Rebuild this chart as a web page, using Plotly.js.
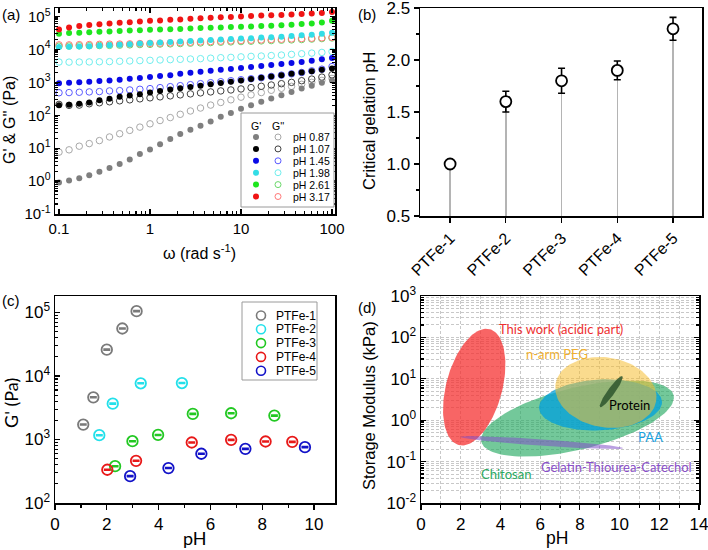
<!DOCTYPE html>
<html><head><meta charset="utf-8">
<script src="https://cdn.plot.ly/plotly-3.0.1.min.js"></script>
<style>html,body{margin:0;padding:0;background:#fff}#chart{width:708px;height:550px}</style>
</head><body><div id="chart"></div>
<script>
// ---------------- DATA ----------------
// Panel (a): frequency sweeps
const omega = [0.1,0.129,0.167,0.215,0.278,0.359,0.464,0.599,0.774,1,1.29,1.67,2.15,2.78,3.59,4.64,5.99,7.74,10,12.9,16.7,21.5,27.8,35.9,46.4,59.9,77.4,100];
const sweepLabels = ['pH 0.87','pH 1.07','pH 1.45','pH 1.98','pH 2.61','pH 3.17'];
const gPrime_087 = [0.91,1.05,1.23,1.51,1.91,2.51,3.31,4.57,6.61,9.12,13.2,19.1,26.9,36.3,47.9,64.6,90.2,117,158,200,257,324,407,513,646,794,977,1148];
const gDouble_087 = [7.59,8.91,11.5,13.8,17.0,21.9,27.5,34.7,43.7,55.0,69.2,85.1,107,135,166,204,245,295,355,417,490,575,661,759,871,1000,1148,1318];
const gPrime_107 = [200,209,224,245,288,316,363,398,437,490,550,603,661,724,794,871,955,1047,1148,1259,1380,1514,1660,1820,1995,2188,2399,2630];
const gDouble_107 = [214,200,204,224,240,257,275,295,316,339,363,389,417,447,479,513,550,589,631,692,759,832,912,1000,1122,1259,1445,1698];
const gPrime_145 = [933,966,1000,1047,1096,1148,1202,1288,1349,1445,1549,1660,1820,1950,2089,2239,2399,2570,2754,2951,3162,3388,3631,3890,4169,4571,5012,5495];
const gDouble_145 = [484,490,501,513,525,550,562,589,617,646,692,741,794,851,912,977,1047,1122,1202,1288,1380,1514,1660,1820,1995,2239,2512,3020];
const gPrime_198 = [11900,12000,12300,12600,13000,13500,14000,14500,15100,15700,16200,16800,17400,18000,18600,19300,20000,20700,21400,22100,22900,23700,24500,25700,26900,28200,29900,32400];
const gDouble_198 = [4150,4120,4150,4180,4220,4270,4370,4470,4570,4680,4790,4900,5010,5130,5250,5430,5620,5750,5960,6170,6310,6530,6760,7080,7410,7760,8130,8710];
const gPrime_261 = [30200,31600,32400,33100,34300,35100,36700,37600,38500,39400,40300,41200,42200,43200,44700,45700,46800,47900,49000,50100,51300,52500,54300,56200,58900,61700,66100,74100];
const gDouble_261 = [12600,12700,12900,13000,13200,13300,13500,13800,14100,14300,14600,14800,15100,15500,15800,16200,16600,17000,17400,17800,18200,18600,19100,19500,20000,20700,21400,22400];
const gPrime_317 = [40700,46200,51900,55600,58200,61700,64600,67600,70800,74100,75900,79400,81300,85100,89100,92300,95500,97700,100000,103500,107200,109600,112200,114800,118900,123000,128800,138000];
const gDouble_317 = [13800,13800,14000,14100,14300,14500,14600,14800,15100,15300,15500,15800,16200,16600,17000,17400,17800,18200,18600,19100,19500,20000,20400,20900,21400,21900,22600,23400];

// Panel (b): critical gelation pH
const samples = ['PTFe-1','PTFe-2','PTFe-3','PTFe-4','PTFe-5'];
const criticalPH = [1.0, 1.6, 1.8, 1.9, 2.3];
const criticalPHErr = [0.04, 0.10, 0.12, 0.09, 0.11];
const axisBaseB = 0.5;

// Panel (c): G' versus pH
const ptfe1_pH = [1.09, 1.48, 2.00, 2.60, 3.15];
const ptfe1_G = [1720, 4620, 26000, 56000, 105000];
const ptfe2_pH = [1.71, 2.23, 3.31, 4.90];
const ptfe2_G = [1170, 3670, 7680, 7750];
const ptfe3_pH = [2.32, 2.99, 3.98, 5.32, 6.80, 8.47];
const ptfe3_G = [380, 940, 1180, 2530, 2590, 2380];
const ptfe4_pH = [2.02, 3.13, 5.28, 6.80, 8.13, 9.16];
const ptfe4_G = [334, 462, 897, 988, 930, 919];
const ptfe5_pH = [2.90, 4.38, 5.65, 7.35, 9.65];
const ptfe5_G = [265, 355, 596, 713, 758];

// Panel (d): regions (centre pH, centre log10 kPa, semi-axes in pH-equivalent screen units, tilt)
const regionNames = ['Chitosan','PAA','n-arm PEG','This work (acidic part)','Gelatin-Thiourea-Catechol','Protein'];
const regionCenterPH = [7.88, 9.04, 9.31, 2.68, 6.08, 9.58];
const regionCenterLogKPa = [0.04, 0.37, 0.67, 0.80, -0.54, 0.69];
const regionSemiMajor = [4.98, 3.10, 2.57, 3.02, 4.12, 0.96];
const regionSemiMinor = [1.56, 1.28, 1.76, 1.41, 0.16, 0.18];
const regionTiltDeg = [13.6, 3, -10, 75, -4, 54.3];
const regionLabelPH = [4.26, 11.58, 6.85, 7.05, 9.87, 10.52];
const regionLabelLogKPa = [-1.29, -0.41, 1.60, 2.21, -1.12, 0.36];

// ---------------- STYLE / LAYOUT ----------------
const W = 708, H = 550;
const px = x => x / W, py = y => 1 - y / H;
const FONT = 'Liberation Sans, Arial, sans-serif';
const CAL = 'Lato, Open Sans, sans-serif';
const boxA = [55, 335, 8, 214], boxB = [420, 702, 8, 216], boxC = [55, 335, 296, 503], boxD = [421, 699, 296, 503];
const dom = b => ({x: [px(b[0]), px(b[1])], y: [py(b[3]), py(b[2])]});

const fillCols = ['#7f7f7f','#000000','#0a0ae6','#33dde6','#1ee61e','#f01414'];
const openCols = ['#a8a8a8','#404040','#5a5aff','#70eeee','#6ad86a','#ff7878'];
const gPrimeSets = [gPrime_087,gPrime_107,gPrime_145,gPrime_198,gPrime_261,gPrime_317];
const gDoubleSets = [gDouble_087,gDouble_107,gDouble_145,gDouble_198,gDouble_261,gDouble_317];

const traces = [];
for (let i = 0; i < 6; i++) {
  traces.push({x: omega, y: gDoubleSets[i], type:'scatter', mode:'markers', xaxis:'x', yaxis:'y', showlegend:false,
    marker:{symbol:'circle-open', size:6.5, color:openCols[i], line:{width:1, color:openCols[i]}}});
}
for (let i = 0; i < 6; i++) {
  traces.push({x: omega, y: gPrimeSets[i], type:'scatter', mode:'markers', xaxis:'x', yaxis:'y', showlegend:false,
    marker:{symbol:'circle', size:6, color:fillCols[i], line:{width:0}}});
}
// Panel (b)
traces.push({x: samples, y: criticalPH.map(v => v - axisBaseB), base: axisBaseB, type:'bar', width:0.028,
  xaxis:'x2', yaxis:'y2', showlegend:false, marker:{color:'#b4b4b4', line:{width:0}}});
traces.push({x: samples, y: criticalPH, type:'scatter', mode:'markers', xaxis:'x2', yaxis:'y2', showlegend:false,
  marker:{symbol:'circle', size:11, color:'#ffffff', line:{width:1.8, color:'#000'}},
  error_y:{type:'data', array: criticalPHErr, visible:true, color:'#000', thickness:1.6, width:3.5}});
// Panel (c)
const cCols = ['#7a7a7a','#22e0ea','#22c822','#e81818','#1212c8'];
const cX = [ptfe1_pH, ptfe2_pH, ptfe3_pH, ptfe4_pH, ptfe5_pH];
const cY = [ptfe1_G, ptfe2_G, ptfe3_G, ptfe4_G, ptfe5_G];
for (let i = 0; i < 5; i++) {
  traces.push({x: cX[i], y: cY[i], type:'scatter', mode:'markers', xaxis:'x3', yaxis:'y3', showlegend:false,
    marker:{symbol:'circle-open', size:10.5, color:cCols[i], line:{width:1.8, color:cCols[i]}},
    error_y:{type:'percent', value:2, visible:true, color:cCols[i], thickness:1.5, width:3.5}});
}
// Panel (d)
const dFill = ['rgba(40,170,100,0.65)','rgba(0,160,220,0.75)','rgba(245,190,50,0.55)','rgba(245,50,50,0.75)','rgba(130,80,200,0.55)','rgba(45,85,45,0.85)'];
const dText = ['#2aa860','#1aa2e0','#f0b030','#ee3030','#8a4fc8','#000000'];
const kD = ((boxD[3]-boxD[2]) / 5) / ((boxD[1]-boxD[0]) / 14); // pH-equivalent per decade on screen
for (let i = 0; i < regionNames.length; i++) {
  const t = regionTiltDeg[i] * Math.PI / 180, xs = [], ys = [];
  for (let j = 0; j <= 120; j++) {
    const p = 2 * Math.PI * j / 120;
    const u = regionSemiMajor[i] * Math.cos(p), v = regionSemiMinor[i] * Math.sin(p);
    xs.push(regionCenterPH[i] + u * Math.cos(t) - v * Math.sin(t));
    ys.push(Math.pow(10, regionCenterLogKPa[i] + (u * Math.sin(t) + v * Math.cos(t)) / kD));
  }
  traces.push({x: xs, y: ys, type:'scatter', mode:'lines', fill:'toself', fillcolor: dFill[i], line:{width:0, color:'rgba(0,0,0,0)'},
    xaxis:'x4', yaxis:'y4', showlegend:false, hoverinfo:'skip'});
}

function minorLog(lo, hi) { const a = []; for (let e = lo; e < hi; e++) for (let m = 2; m <= 9; m++) a.push(m * Math.pow(10, e)); return a; }
function decades(lo, hi) { const v = [], t = []; for (let e = lo; e <= hi; e++) { v.push(Math.pow(10, e)); t.push('10<sup>' + e + '</sup>'); } return {v, t}; }

const axBase = {showline:true, linecolor:'#000', linewidth:1.5, mirror:true, showgrid:false, zeroline:false, ticklen:5, tickwidth:1.2,
  tickcolor:'#000', ticklabeloverflow:'allow'};
const dA = dom(boxA), dB = dom(boxB), dC = dom(boxC), dD = dom(boxD);
const yA = decades(-1, 5), yC = decades(2, 5), yD = decades(-2, 3);

const layout = {
  width: W, height: H, margin:{l:0,r:0,t:0,b:0}, paper_bgcolor:'#fff', plot_bgcolor:'#fff', showlegend:false,
  font:{family: FONT, color:'#000'}, bargap:0,
  xaxis: Object.assign({}, axBase, {domain:dA.x, anchor:'y', type:'log', range:[-1.044, 2.033], ticks:'inside', mirror:'allticks',
    tickmode:'array', tickvals:[0.1,1,10,100], ticktext:['0.1','1','10','100'], tickfont:{size:15, family:FONT},
    minor:{tickmode:'array', tickvals:minorLog(-1, 2), ticks:'inside', ticklen:3, tickcolor:'#000'}}),
  yaxis: Object.assign({}, axBase, {domain:dA.y, anchor:'x', type:'log', range:[-1, 5.26], ticks:'inside', mirror:'allticks',
    tickmode:'array', tickvals:yA.v, ticktext:yA.t, tickfont:{size:15, family:FONT},
    minor:{tickmode:'array', tickvals:minorLog(-1, 5), ticks:'inside', ticklen:3, tickcolor:'#000'}}),
  xaxis2: Object.assign({}, axBase, {domain:dB.x, anchor:'y2', type:'category', range:[-0.54, 4.52], ticks:'outside',
    tickangle:-45, tickfont:{size:16, family:FONT}}),
  yaxis2: Object.assign({}, axBase, {domain:dB.y, anchor:'x2', range:[0.5, 2.5], ticks:'outside',
    tickmode:'array', tickvals:[0.5,1,1.5,2,2.5], ticktext:['0.5','1.0','1.5','2.0','2.5'], tickfont:{size:17, family:FONT},
    minor:{tickmode:'array', tickvals:[0.75,1.25,1.75,2.25], ticks:'outside', ticklen:3, tickcolor:'#000'}}),
  xaxis3: Object.assign({}, axBase, {domain:dC.x, anchor:'y3', range:[0, 10.81], ticks:'outside', dtick:2, tick0:0,
    tickfont:{size:17, family:FONT}, minor:{dtick:1, ticks:'outside', ticklen:3, tickcolor:'#000'}}),
  yaxis3: Object.assign({}, axBase, {domain:dC.y, anchor:'x3', type:'log', range:[2, 5.26], ticks:'inside',
    tickmode:'array', tickvals:yC.v, ticktext:yC.t, tickfont:{size:17, family:FONT},
    minor:{tickmode:'array', tickvals:minorLog(2, 5), ticks:'inside', ticklen:3, tickcolor:'#000'}}),
  xaxis4: Object.assign({}, axBase, {domain:dD.x, anchor:'y4', range:[0, 14], ticks:'outside',
    tickmode:'array', tickvals:[0,2,4,6,8,10,12,14], tickfont:{size:17, family:FONT}, showgrid:true, gridcolor:'#c8c8c8', griddash:'3px,2px', gridwidth:1,
    minor:{tickmode:'array', tickvals:[1,3,5,7,9,11,13], ticks:'outside', ticklen:3, tickcolor:'#000', showgrid:true, gridcolor:'#c8c8c8', griddash:'3px,2px'}}),
  yaxis4: Object.assign({}, axBase, {domain:dD.y, anchor:'x4', type:'log', range:[-2, 3], ticks:'inside', mirror:'allticks',
    tickmode:'array', tickvals:yD.v, ticktext:yD.t, tickfont:{size:17, family:FONT},
    showgrid:true, gridcolor:'#c8c8c8', griddash:'3px,2px', gridwidth:1,
    minor:{tickmode:'array', tickvals:minorLog(-2, 3), ticks:'inside', ticklen:3, tickcolor:'#000', showgrid:true, gridcolor:'#c8c8c8', griddash:'3px,2px'}}),
  annotations: [], shapes: []
};

const ann = (x, y, text, opts) => layout.annotations.push(Object.assign({xref:'paper', yref:'paper', x:px(x), y:py(y), text, showarrow:false,
  xanchor:'center', yanchor:'middle', font:{size:15, family:FONT, color:'#000'}}, opts || {}));
// panel labels
ann(0, 15, '(a)', {xanchor:'left'}); ann(356, 15, '(b)', {xanchor:'left'});
ann(0, 300, '(c)', {xanchor:'left'}); ann(356, 307, '(d)', {xanchor:'left'});
// axis titles
ann(10, 120, "G' & G'' (Pa)", {textangle:-90, font:{size:16, family:FONT}});
ann(199, 252, 'ω (rad s<sup>-1</sup>)', {font:{size:16, family:FONT}});
ann(369, 121, 'Critical gelation pH', {textangle:-90, font:{size:16.5, family:FONT}});
ann(11, 403, "G' (Pa)", {textangle:-90, font:{size:18, family:CAL}});
ann(195, 538, 'pH', {font:{size:18, family:CAL}});
ann(369, 406, 'Storage Modulus (kPa)', {textangle:-90, font:{size:16.5, family:FONT}});
ann(557, 538, 'pH', {font:{size:17.5, family:FONT}});

// legend (a)
layout.shapes.push({type:'rect', xref:'paper', yref:'paper', x0:px(241), x1:px(334), y0:py(207), y1:py(113), line:{color:'#9a9a9a', width:1}, fillcolor:'#fff', layer:'above'});
ann(256, 126, "G'", {font:{size:10.5, family:FONT}});
ann(278, 126, "G''", {font:{size:10.5, family:FONT}});
for (let i = 0; i < 6; i++) {
  const yy = 137 + 11.9 * i;
  layout.shapes.push({type:'circle', xref:'paper', yref:'paper', xsizemode:'pixel', ysizemode:'pixel', xanchor:px(256), yanchor:py(yy),
    x0:-3, x1:3, y0:-3, y1:3, fillcolor:fillCols[i], line:{width:0}, layer:'above'});
  layout.shapes.push({type:'circle', xref:'paper', yref:'paper', xsizemode:'pixel', ysizemode:'pixel', xanchor:px(278), yanchor:py(yy),
    x0:-3, x1:3, y0:-3, y1:3, fillcolor:'rgba(0,0,0,0)', line:{width:1, color:openCols[i]}, layer:'above'});
  ann(291, yy, sweepLabels[i], {xanchor:'left', font:{size:10.5, family:FONT}});
}
// legend (c)
layout.shapes.push({type:'rect', xref:'paper', yref:'paper', x0:px(242), x1:px(317), y0:py(380), y1:py(302), line:{color:'#9a9a9a', width:1}, fillcolor:'#fff', layer:'above'});
for (let i = 0; i < 5; i++) {
  const yy = 315.5 + 13.8 * i;
  layout.shapes.push({type:'circle', xref:'paper', yref:'paper', xsizemode:'pixel', ysizemode:'pixel', xanchor:px(261), yanchor:py(yy),
    x0:-4.5, x1:4.5, y0:-4.5, y1:4.5, fillcolor:'rgba(0,0,0,0)', line:{width:1.6, color:cCols[i]}, layer:'above'});
  ann(274, yy, samples[i], {xanchor:'left', font:{size:12, family:FONT}});
}
// region labels (d)
for (let i = 0; i < regionNames.length; i++) {
  layout.annotations.push({xref:'x4', yref:'y4', x: regionLabelPH[i], y: regionLabelLogKPa[i], text: regionNames[i], showarrow:false,
    xanchor:'center', yanchor:'middle', font:{size:13, family:CAL, color:dText[i]}});
}

Plotly.newPlot('chart', traces, layout, {staticPlot:true, displayModeBar:false});
</script></body></html>
